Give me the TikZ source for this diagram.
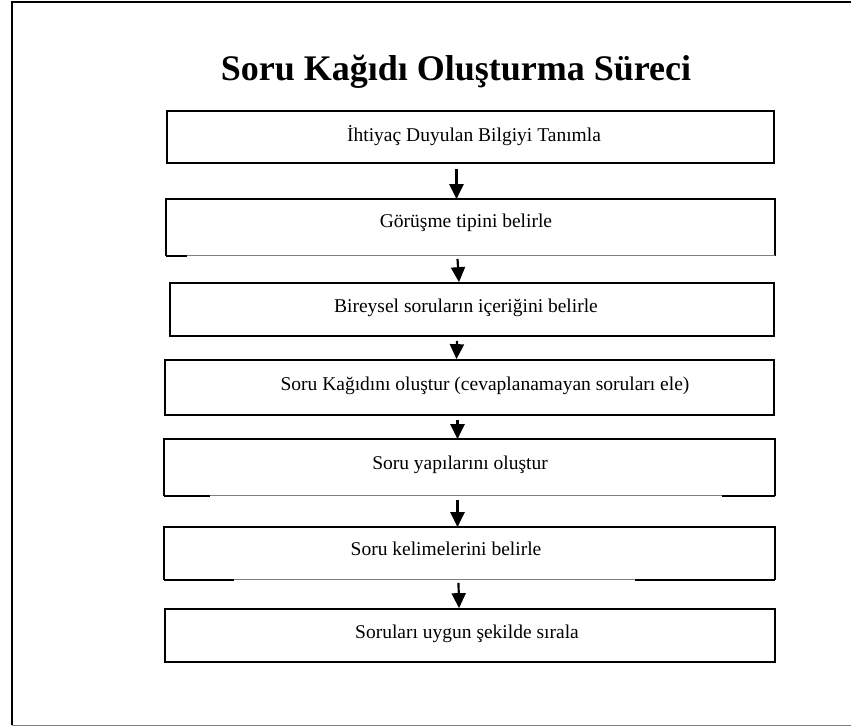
\documentclass[tikz,border=0pt]{standalone}
\usepackage{fontspec}
\setmainfont{Liberation Serif}
\usetikzlibrary{arrows.meta, positioning, calc}

\begin{document}
\begin{tikzpicture}[x=1pt, y=-1pt,
    % Define styles
    box/.style={rectangle, draw=black, line width=1.7pt, minimum width=607pt, minimum height=53pt, inner sep=0pt},
    openbox/.style={box, draw=none},
    edge/.style={black, line width=1.7pt},
    faint/.style={gray, line width=0.8pt},
    txt/.style={font=\fontsize{19.5}{23}\selectfont, inner sep=0pt},
    arrow/.style={-{Triangle[width=14pt, length=15pt]}, line width=2.2pt},
    ]

    \useasboundingbox (0,0) rectangle (851,726);

    % Outer frame (open on the right)
    \draw[edge] (851,2) -- (12,2) -- (12,725);
    \draw[faint] (12,725) -- (851,725);

    % Title
    \node[font=\fontsize{36}{40}\selectfont\bfseries] (title) at (456,72) {Soru Kağıdı Oluşturma Süreci};

    % Main nodes
    \node[box, minimum height=52pt] (b1) at (470.5,137) {};
    \node[openbox, minimum height=55pt] (b2) at (470.5,227.5) {};
    \node[box, minimum width=604pt] (b3) at (472,309.5) {};
    \node[box, minimum width=609pt, minimum height=55pt] (b4) at (469.5,387.5) {};
    \node[openbox, minimum width=609pt, minimum height=55pt] (b5) at (469.5,467.5) {};
    \node[openbox, minimum width=609pt, minimum height=51pt] (b6) at (469.5,553.5) {};
    \node[box, minimum width=610pt] (b7) at (470,635.5) {};

    % Box texts
    \node[txt] (t1) at (474,136) {İhtiyaç Duyulan Bilgiyi Tanımla};
    \node[txt] (t2) at (466,223) {Görüşme tipini belirle};
    \node[txt] (t3) at (466,308) {Bireysel soruların içeriğini belirle};
    \node[txt] (t4) at (485,386) {Soru Kağıdını oluştur (cevaplanamayan soruları ele)};
    \node[txt] (t5) at (460,465) {Soru yapılarını oluştur};
    \node[txt] (t6) at (446,549) {Soru kelimelerini belirle};
    \node[txt] (t7) at (467,634) {Soruları uygun şekilde sırala};

    % Boxes with a faint bottom line
    \foreach \b in {b2, b5, b6} {
        \draw[edge] (\b.south west) -- (\b.north west) -- (\b.north east) -- (\b.south east);
        \draw[faint] (\b.south west) -- (\b.south east);
    }
    \draw[edge] (b2.south west) -- ++(21,0);
    \draw[edge] (b5.south west) -- ++(46,0);
    \draw[edge] (b5.south east) -- ++(-53,0);
    \draw[edge] (b6.south west) -- ++(70,0);
    \draw[edge] (b6.south east) -- ++(-140,0);

    % Arrows
    \draw[arrow] ([xshift=-14pt, yshift=-5pt]b1.south) -- ([xshift=-14pt]b2.north);
    \draw[arrow] ([xshift=-13pt, yshift=-3pt]b2.south) -- ([xshift=-13pt]b3.north);
    \draw[arrow] ([xshift=-15pt, yshift=-4pt]b3.south) -- ([xshift=-13pt]b4.north);
    \draw[arrow] ([xshift=-12pt, yshift=-4pt]b4.south) -- ([xshift=-12pt]b5.north);
    \draw[arrow] ([xshift=-12pt, yshift=-4pt]b5.south) -- ([xshift=-12pt]b6.north);
    \draw[arrow] ([xshift=-11pt, yshift=-3pt]b6.south) -- ([xshift=-11pt]b7.north);

\end{tikzpicture}
\end{document}
